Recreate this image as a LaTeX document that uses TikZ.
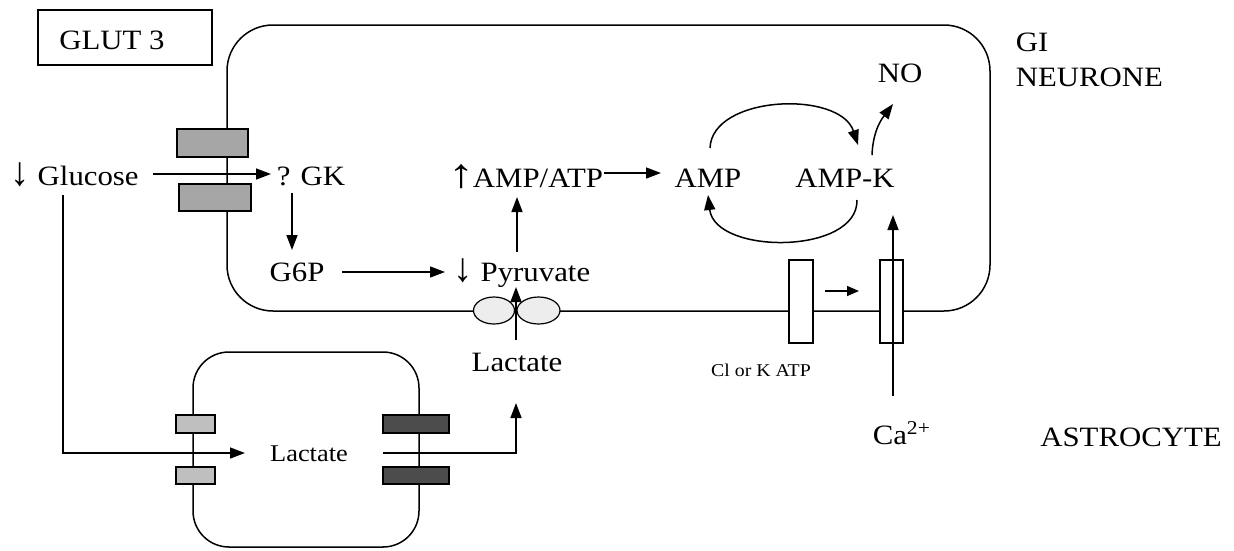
\documentclass[tikz,border=0pt]{standalone}
\usepackage{fontspec}
\setmainfont{Liberation Serif}[FakeStretch=1.1]
\usetikzlibrary{arrows.meta}
\newcommand{\dnarr}{\scalebox{1.25}[1.45]{↓}}
\newcommand{\uparr}{\scalebox{1.7}[1.45]{↑}\kern-2pt}
\begin{document}
\begin{tikzpicture}[x=1pt,y=-1pt,line width=1.5pt,
  lbl/.style={inner sep=0pt,anchor=base,font=\fontsize{28}{30}\selectfont},
  lblsmall/.style={inner sep=0pt,anchor=base,font=\fontsize{24}{26}\selectfont},
  lbltiny/.style={inner sep=0pt,anchor=base,font=\fontsize{18}{20}\selectfont},
  arr/.style={-{Triangle[length=15pt,width=11pt]}},
  arrs/.style={-{Triangle[length=12pt,width=10pt]}},
  membrane/.style={draw,line width=1.5pt},
  midgray/.style={draw,line width=1.2pt,fill=black!35},
  lightgray/.style={draw,line width=1.2pt,fill=black!25},
  darkgray/.style={draw,line width=1.2pt,fill=black!70},
  channel/.style={draw,line width=1.2pt,fill=white},
  oval/.style={draw,line width=1.2pt,fill=black!7}]
\useasboundingbox (0,0) rectangle (1234,550);
\fill[white] (0,0) rectangle (1234,550);

% cells
\draw[membrane,rounded corners=46pt] (227,25) rectangle (990,311);
\draw[membrane,rounded corners=36pt] (193,352) rectangle (419,547);

% GLUT 3 label box
\node[draw,line width=1.3pt,minimum width=174pt,minimum height=55pt,inner sep=0pt] (glutbox) at (125,37.5) {};
\node[lbl] (glut) at (112,49) {GLUT 3};

% transporters
\node[midgray,minimum width=71pt,minimum height=28pt,inner sep=0pt] (gt1) at (212.5,143) {};
\node[midgray,minimum width=72pt,minimum height=27pt,inner sep=0pt] (gt2) at (215,197.5) {};
\node[lightgray,minimum width=39pt,minimum height=18pt,inner sep=0pt] (at1) at (195.5,424) {};
\node[lightgray,minimum width=39pt,minimum height=17pt,inner sep=0pt] (at2) at (195.5,475.5) {};
\node[darkgray,minimum width=66pt,minimum height=18pt,inner sep=0pt] (mt1) at (416,424) {};
\node[darkgray,minimum width=66pt,minimum height=17pt,inner sep=0pt] (mt2) at (416,475.5) {};
\node[channel,minimum width=24pt,minimum height=83pt,inner sep=0pt] (katp) at (801,301.5) {};
\node[channel,minimum width=23pt,minimum height=83pt,inner sep=0pt] (cach) at (891.5,301.5) {};
\draw[oval] (494,310.5) ellipse [x radius=20.5pt,y radius=13.5pt];
\draw[oval] (538.5,310.5) ellipse [x radius=21.5pt,y radius=13.5pt];
\node[inner sep=0pt,minimum size=1pt] (mct) at (516,310.5) {};

% labels
\node[lbl,anchor=base west] (gluc) at (10,185) {\dnarr\ Glucose};
\node[lbl] (gk) at (311,185) {? GK};
\node[lbl] (g6p) at (297,281) {G6P};
\node[lbl,anchor=base west] (pyr) at (453,281) {\dnarr\ Pyruvate};
\node[lbl,anchor=base west] (ampatp) at (448,187) {\uparr AMP/ATP};
\node[lbl] (amp) at (708,187) {AMP};
\node[lbl] (ampk) at (845,187) {AMP-K};
\node[lbl] (no) at (900,82) {NO};
\node[lbl,anchor=base west] (gi) at (1015,51) {GI};
\node[lbl,anchor=base west] (neur) at (1015,86) {NEURONE};
\node[lbl] (lacout) at (517,371) {Lactate};
\node[lblsmall] (lacin) at (309,461) {Lactate};
\node[lbltiny] (katplbl) at (761,376) {Cl or K ATP};
\node[lbl,anchor=base west] (ca) at (872,444) {Ca\textsuperscript{2+}};
\node[lbl] (astro) at (1131,446) {ASTROCYTE};

% connector end points
\coordinate (glucS) at (153,174);
\coordinate (gkW) at (271,174);
\coordinate (glucD) at (63,195);
\coordinate (bendA) at (63,453);
\coordinate (lacinW) at (245,453);
\coordinate (gkS) at (292,193);
\coordinate (g6pN) at (292,250);
\coordinate (g6pE) at (342,272);
\coordinate (pyrW) at (445,272);
\coordinate (pyrN) at (517,252);
\coordinate (ampatpS) at (517,197);
\coordinate (ampatpE) at (ampatp.east |- 0,173);
\coordinate (ampW) at (661,173);
\coordinate (ampN) at (710,148);
\coordinate (ampkN) at (858,145);
\coordinate (ampkS) at (857,200);
\coordinate (ampS) at (708,195);
\coordinate (ampkNE) at (872,155);
\coordinate (noS) at (893,104);
\coordinate (lacinE) at (383,453);
\coordinate (bendB) at (516,453);
\coordinate (lacoutS) at (516,403);
\coordinate (lacoutN) at (516,340);
\coordinate (pyrS) at (516,287);
\coordinate (katpE) at (825,291);
\coordinate (cachW) at (859,291);
\coordinate (caN) at (893,396);
\coordinate (ampkSE) at (893,215);

% connectors
\draw[arr] (glucS) -- (gkW);
\draw[arr] (glucD) -- (bendA) -- (lacinW);
\draw[arr] (gkS) -- (g6pN);
\draw[arr] (g6pE) -- (pyrW);
\draw[arr] (pyrN) -- (ampatpS);
\draw[arr] (ampatpE) -- (ampW);
\draw[arr] (ampN) .. controls (712,95) and (840,90) .. (ampkN);
\draw[arr] (ampkS) .. controls (858,255) and (715,255) .. (ampS);
\draw[arr] (ampkNE) .. controls (873,128) and (884,116) .. (noS);
\draw[arr] (lacinE) -- (bendB) -- (lacoutS);
\draw[arr] (lacoutN) -- (pyrS);
\draw[arrs] (katpE) -- (cachW);
\draw[arr] (caN) -- (ampkSE);
\end{tikzpicture}
\end{document}
